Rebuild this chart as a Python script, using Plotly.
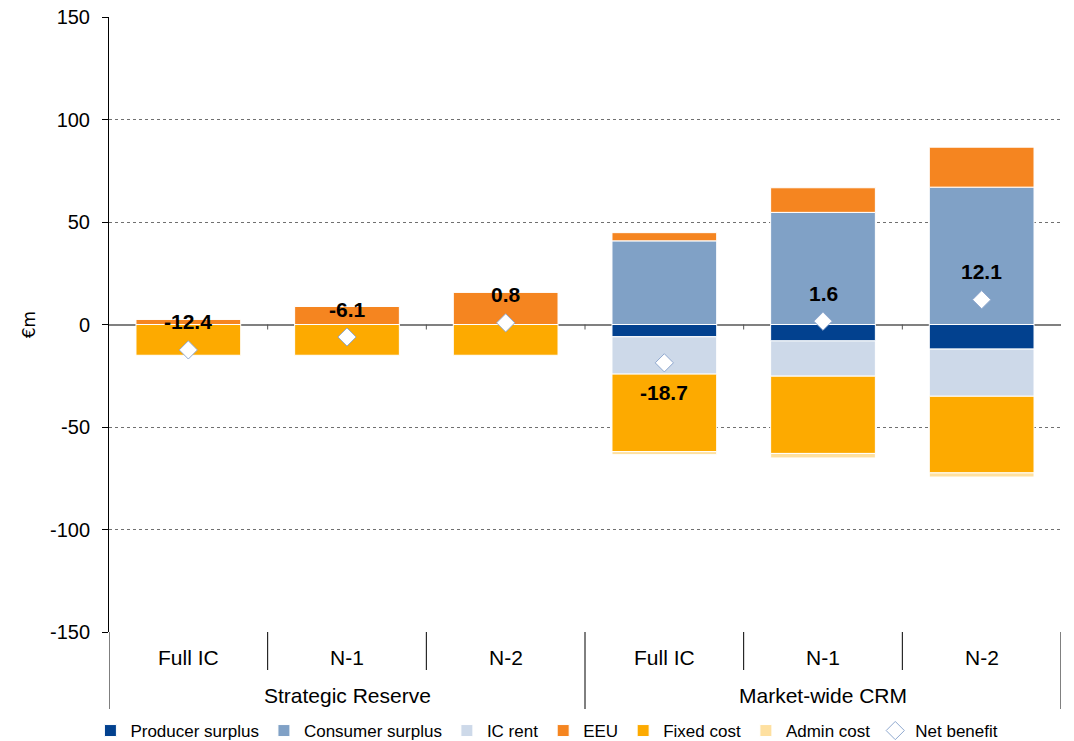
import plotly.graph_objects as go

groups = ["Strategic Reserve", "Market-wide CRM"]
scenarios = ["Full IC", "N-1", "N-2", "Full IC", "N-1", "N-2"]
group_of = [0, 0, 0, 1, 1, 1]

producer_surplus = [0, 0, 0, -6.0, -8.0, -12.0]
consumer_surplus = [0, 0, 0, 40.8, 54.7, 67.0]
ic_rent = [0, 0, 0, -18.2, -17.2, -23.0]
eeu = [2.6, 8.9, 15.8, 4.0, 12.0, 19.5]
fixed_cost = [-15.0, -15.0, -15.0, -37.8, -37.7, -37.4]
admin_cost = [0, 0, 0, -1.5, -2.2, -2.0]
net_benefit = [-12.4, -6.1, 0.8, -18.7, 1.6, 12.1]
label_below = [False, False, False, True, False, False]

y_ticks = [-150, -100, -50, 0, 50, 100, 150]
y_tick_text = ["-150", "-100", "-50", "0", "50", "100", "150"]

FONT = "Liberation Sans, Arial, sans-serif"
x = list(range(len(scenarios)))

series = [
    ("Producer surplus", producer_surplus, "#02418f"),
    ("Consumer surplus", consumer_surplus, "#80a1c6"),
    ("IC rent", ic_rent, "#cdd9e9"),
    ("EEU", eeu, "#f58520"),
    ("Fixed cost", fixed_cost, "#fdaa00"),
    ("Admin cost", admin_cost, "#fee0a0"),
]

fig = go.Figure()
for name, vals, col in series:
    fig.add_trace(go.Bar(
        x=x, y=vals, name=name, width=0.66,
        marker=dict(color=col, line=dict(color="white", width=1)),
        hoverinfo="skip",
    ))

fig.add_trace(go.Scatter(
    x=x, y=net_benefit, name="Net benefit", mode="markers",
    marker=dict(symbol="diamond", size=14, color="white",
                line=dict(color="#8fa8cf", width=1)),
))

annotations = []
for i, v in enumerate(net_benefit):
    annotations.append(dict(
        x=i, y=v, xref="x", yref="y", text=f"{v:.1f}", showarrow=False,
        font=dict(family=FONT, size=21, color="black", weight="bold"),
        yshift=-30 if label_below[i] else 28,
    ))
for i, s in enumerate(scenarios):
    annotations.append(dict(
        x=i, y=0, xref="x", yref="paper", text=s, showarrow=False,
        yanchor="middle", yshift=-25,
        font=dict(family=FONT, size=21, color="black"),
    ))
for g, name in enumerate(groups):
    idx = [i for i in x if group_of[i] == g]
    annotations.append(dict(
        x=(idx[0] + idx[-1]) / 2, y=0, xref="x", yref="paper", text=name,
        showarrow=False, yanchor="middle", yshift=-63,
        font=dict(family=FONT, size=21, color="black"),
    ))

shapes = []
plot_h = 615
for i in range(len(scenarios) + 1):
    xb = i - 0.5
    is_group_edge = (i == 0 or i == len(scenarios) or group_of[i] != group_of[i - 1])
    depth = 77 if is_group_edge else 38
    shapes.append(dict(type="line", xref="x", yref="paper", x0=xb, x1=xb,
                       y0=0, y1=-depth / plot_h,
                       line=dict(color="black", width=1)))
    if 0 < i < len(scenarios):
        shapes.append(dict(type="line", xref="x", yref="y", ysizemode="pixel",
                           yanchor=0, x0=xb, x1=xb, y0=0, y1=-5,
                           line=dict(color="#555555", width=1)))

fig.update_layout(
    barmode="relative",
    width=1074, height=741,
    margin=dict(l=109, r=13, t=17, b=109, autoexpand=False),
    paper_bgcolor="white", plot_bgcolor="white",
    font=dict(family=FONT, size=20, color="black"),
    showlegend=True,
    legend=dict(orientation="h", x=0.46, xanchor="center",
                yref="container", y=10 / 741, yanchor="middle",
                font=dict(family=FONT, size=17),
                itemwidth=30, tracegroupgap=0, traceorder="normal"),
    annotations=annotations,
    shapes=shapes,
    xaxis=dict(range=[-0.5, len(scenarios) - 0.5], showticklabels=False,
               showgrid=False, zeroline=False, showline=False, ticks="",
               fixedrange=True, automargin=False),
    yaxis=dict(range=[-150, 150], tickvals=y_ticks, ticktext=y_tick_text,
               showgrid=True, automargin=False,
               gridcolor="#707070", griddash="dot", gridwidth=1,
               zeroline=True, zerolinecolor="#808080", zerolinewidth=1.5,
               showline=True, linecolor="black", linewidth=1,
               ticks="outside", ticklen=6, tickcolor="black",
               ticklabelstandoff=8,
               tickfont=dict(family=FONT, size=20),
               title=dict(text="€m", font=dict(family="DejaVu Sans", size=17),
                          standoff=10)),
)

fig.write_html("out.html")
